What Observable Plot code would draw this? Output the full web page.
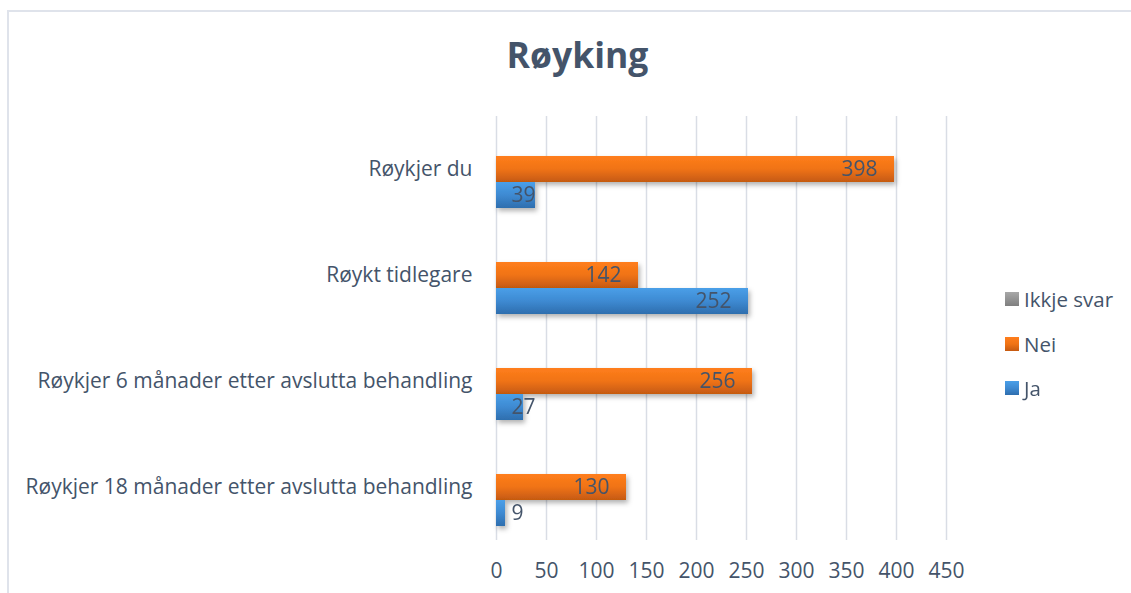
<!DOCTYPE html>
<html>
<head>
<meta charset="utf-8">
<script src="https://cdn.jsdelivr.net/npm/d3@7"></script>
<script src="https://cdn.jsdelivr.net/npm/@observablehq/plot@0.6"></script>
<style>
  body { margin: 0; background: #fff; font-family: "Open Sans", Lato, sans-serif; }
  #wrap { position: relative; width: 1131px; height: 593px; overflow: hidden; }
  #border { position: absolute; left: 7px; top: 10px; width: 1140px; height: 700px; border: 2px solid #DFE3EB; box-sizing: border-box; pointer-events: none; }
  #title { position: relative; height: 100px; box-sizing: border-box; padding-top: 37px; padding-left: 24px; text-align: center; font-family: "Open Sans", sans-serif; font-size: 35.5px; font-weight: bold; color: #44546A; line-height: 1; }
  #chart svg { display: block; }
  #legend { position: absolute; left: 1005px; top: 0; font-size: 20.5px; color: #44546A; }
  .item { position: absolute; left: 0; display: flex; align-items: center; white-space: nowrap; height: 26px; }
  .item svg { width: 14px; height: 14px; margin-right: 5px; display: block; }
</style>
</head>
<body>
<svg width="0" height="0" style="position:absolute">
  <defs>
    <linearGradient id="gNei" x1="0" y1="0" x2="0" y2="1">
      <stop offset="0" stop-color="#FF7E1C"/>
      <stop offset="0.5" stop-color="#F07315"/>
      <stop offset="1" stop-color="#C55A11"/>
    </linearGradient>
    <linearGradient id="gJa" x1="0" y1="0" x2="0" y2="1">
      <stop offset="0" stop-color="#4A9FE8"/>
      <stop offset="0.5" stop-color="#3E8AD2"/>
      <stop offset="1" stop-color="#2E6EAE"/>
    </linearGradient>
    <linearGradient id="gIkkje" x1="0" y1="0" x2="0" y2="1">
      <stop offset="0" stop-color="#A8A8A8"/>
      <stop offset="1" stop-color="#7F7F7F"/>
    </linearGradient>
    <filter id="shadow" x="-5%" y="-30%" width="115%" height="180%">
      <feDropShadow dx="2" dy="3" stdDeviation="2.5" flood-color="#000" flood-opacity="0.3"/>
    </filter>
  </defs>
</svg>
<div id="wrap">
  <div id="title">Røyking</div>
  <div id="chart"></div>
  <div id="legend"></div>
  <div id="border"></div>
</div>
<script>
const categories = [
  "Røykjer du",
  "Røykt tidlegare",
  "Røykjer 6 månader etter avslutta behandling",
  "Røykjer 18 månader etter avslutta behandling"
];
const series = ["Ikkje svar", "Nei", "Ja"];
const ikkjeSvar = [0, 0, 0, 0];
const nei = [398, 142, 256, 130];
const ja = [39, 252, 27, 9];
const xTicks = [0, 50, 100, 150, 200, 250, 300, 350, 400, 450];

const seriesValues = { "Ikkje svar": ikkjeSvar, "Nei": nei, "Ja": ja };
const seriesFill = { "Ikkje svar": "url(#gIkkje)", "Nei": "url(#gNei)", "Ja": "url(#gJa)" };

const rows = [];
categories.forEach((c, i) => {
  series.forEach(s => rows.push({ category: c, series: s, value: seriesValues[s][i] }));
});

const textColor = "#44546A";
const small = d => d.value < 60;

const plot = Plot.plot({
  width: 1131,
  height: 493,
  marginLeft: 496,
  marginRight: 185,
  marginTop: 15,
  marginBottom: 53,
  style: { fontFamily: "'Open Sans', Lato, sans-serif", fontSize: "21px", color: textColor, background: "transparent", overflow: "visible" },
  x: { domain: [0, 450], ticks: xTicks, tickSize: 0, tickPadding: 23, label: null, axis: "bottom" },
  y: { domain: series, axis: null, paddingInner: 0, paddingOuter: 0.5 },
  fy: { domain: categories, axis: "left", label: null, tickSize: 0, tickPadding: 24, paddingInner: 0, paddingOuter: 0 },
  facet: { data: rows, y: "category", marginLeft: 496 },
  marks: [
    Plot.ruleX(xTicks, { x: d => d, stroke: "#D9DDE5", strokeWidth: 1.5, strokeOpacity: 1 }),
    ...series.map(s => Plot.barX(rows, {
      filter: d => d.series === s && d.value > 0,
      x: "value", y: "series", fill: seriesFill[s]
    })),
    Plot.text(rows, {
      filter: d => d.series !== "Ikkje svar" && !small(d),
      x: "value", y: "series", text: d => String(d.value),
      textAnchor: "end", dx: -17, fill: textColor, fontSize: 21
    }),
    Plot.text(rows, {
      filter: d => d.series !== "Ikkje svar" && small(d),
      x: () => 0, y: "series", text: d => String(d.value),
      textAnchor: "start", dx: 15, fill: textColor, fontSize: 21
    })
  ]
});

plot.querySelectorAll('g[aria-label="bar"]').forEach(g => g.setAttribute("filter", "url(#shadow)"));
document.getElementById("chart").appendChild(plot);

// legend
const legend = document.getElementById("legend");
const legendTops = [299, 344, 388];
series.forEach((s, i) => {
  const div = document.createElement("div");
  div.className = "item";
  div.style.top = (legendTops[i] - 13) + "px";
  div.innerHTML = `<svg viewBox="0 0 14 14"><rect width="14" height="14" fill="${seriesFill[s]}"/></svg><span>${s}</span>`;
  legend.appendChild(div);
});
</script>
</body>
</html>
